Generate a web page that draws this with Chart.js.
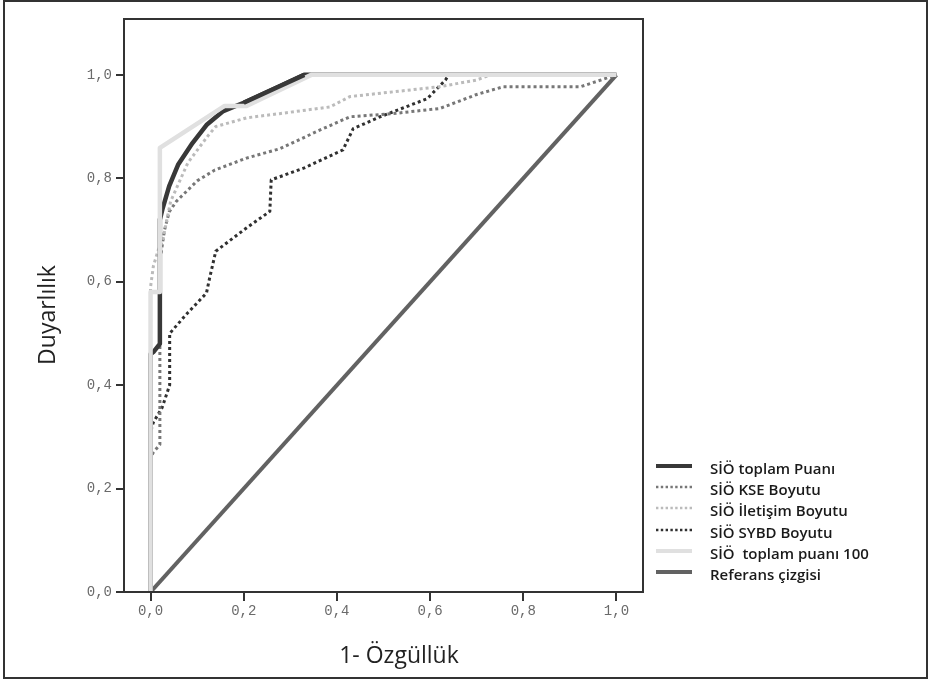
<!DOCTYPE html>
<html>
<head>
<meta charset="utf-8">
<script src="https://cdn.jsdelivr.net/npm/chart.js@4/dist/chart.umd.min.js"></script>
<style>
  html, body { margin: 0; padding: 0; background: #fff; }
  #wrap { position: relative; width: 931px; height: 682px; overflow: hidden; }
  #c { position: absolute; left: 0; top: 0; }
  #frame { position: absolute; left: 3px; top: 0px; width: 925px; height: 679px; box-sizing: border-box; border: 2px solid #333; pointer-events: none; }
  .atitle { position: absolute; font-family: "Open Sans", sans-serif; font-size: 23px; line-height: 23px; color: #222; white-space: nowrap; }
  #xt { left: 399px; top: 643px; transform: translateX(-50%); }
  #yt { left: 46px; top: 315px; transform: translate(-50%, -50%) rotate(-90deg); }
  #legend { position: absolute; left: 656px; top: 455px; font-family: "Open Sans", sans-serif; font-size: 15px; font-weight: 600; color: #1a1a1a; }
  .row { height: 21.3px; display: flex; align-items: center; white-space: nowrap; }
  .row svg { width: 36px; height: 6px; margin-right: 18px; flex: none; }
  .row span { position: relative; top: 2px; }
</style>
</head>
<body>
<div id="wrap">
  <canvas id="c" width="931" height="682"></canvas>
  <div id="frame"></div>
  <div class="atitle" id="xt">1- Özgüllük</div>
  <div class="atitle" id="yt">Duyarlılık</div>
  <div id="legend"></div>
</div>
<script>
// ---- data ----
const xTickValues = [0, 0.2, 0.4, 0.6, 0.8, 1.0];
const xTickLabels = ['0,0', '0,2', '0,4', '0,6', '0,8', '1,0'];
const yTickValues = [0, 0.2, 0.4, 0.6, 0.8, 1.0];
const yTickLabels = ['0,0', '0,2', '0,4', '0,6', '0,8', '1,0'];

const seriesNames = ['SİÖ toplam Puanı', 'SİÖ KSE Boyutu', 'SİÖ İletişim Boyutu', 'SİÖ SYBD Boyutu', 'SİÖ  toplam puanı 100', 'Referans çizgisi'];

const toplamPuani = [[0,0],[0,0.46],[0.006,0.464],[0.02,0.48],[0.02,0.72],[0.026,0.742],[0.04,0.785],[0.059,0.826],[0.09,0.868],[0.12,0.903],[0.156,0.93],[0.2,0.946],[0.27,0.975],[0.33,1.0],[1,1]];
const kse = [[0,0],[0,0.26],[0.006,0.27],[0.02,0.285],[0.02,0.64],[0.03,0.70],[0.04,0.735],[0.055,0.755],[0.1,0.795],[0.138,0.816],[0.206,0.839],[0.277,0.857],[0.363,0.893],[0.428,0.919],[0.52,0.925],[0.621,0.935],[0.7,0.962],[0.757,0.977],[0.923,0.977],[1,1]];
const iletisim = [[0,0],[0,0.59],[0.006,0.63],[0.016,0.66],[0.026,0.68],[0.043,0.755],[0.08,0.83],[0.124,0.883],[0.14,0.9],[0.207,0.917],[0.277,0.925],[0.36,0.935],[0.385,0.938],[0.428,0.958],[0.62,0.977],[0.70,0.99],[0.73,1.0],[1,1]];
const sybd = [[0,0],[0,0.31],[0.006,0.328],[0.025,0.357],[0.041,0.40],[0.041,0.50],[0.08,0.54],[0.12,0.578],[0.127,0.608],[0.14,0.659],[0.2,0.70],[0.256,0.736],[0.259,0.797],[0.33,0.82],[0.413,0.855],[0.435,0.896],[0.493,0.919],[0.594,0.954],[0.633,0.99],[0.64,1.0],[1,1]];
const toplam100 = [[0,0],[0,0.58],[0.02,0.58],[0.02,0.859],[0.159,0.94],[0.206,0.94],[0.345,1.0],[1,1]];
const referans = [[0,0],[1,1]];

// ---- styles ----
const styles = [
  { color: '#383838', width: 4.5, dash: [], order: 1 },
  { color: '#777777', width: 3, dash: [3, 3], order: 3 },
  { color: '#bbbbbb', width: 3, dash: [3, 3], order: 2 },
  { color: '#303030', width: 3, dash: [3, 3], order: 4 },
  { color: '#e0e0e0', width: 4.5, dash: [], order: 0 },
  { color: '#626262', width: 4, dash: [], order: 5 }
];
const allSeries = [toplamPuani, kse, iletisim, sybd, toplam100, referans];

const datasets = allSeries.map((s, i) => ({
  label: seriesNames[i],
  data: s.map(p => ({ x: p[0], y: p[1] })),
  showLine: true,
  borderColor: styles[i].color,
  backgroundColor: styles[i].color,
  borderWidth: styles[i].width,
  borderDash: styles[i].dash,
  borderCapStyle: 'butt',
  borderJoinStyle: 'round',
  pointRadius: 0,
  pointHoverRadius: 0,
  tension: 0,
  fill: false,
  order: styles[i].order
}));

// dark diagonal drawn above the light line where they run side by side
const overlayPlugin = {
  id: 'overlay',
  afterDatasetsDraw(chart) {
    const meta = chart.getDatasetMeta(0);
    const pts = meta.data;
    const ctx = chart.ctx;
    ctx.save();
    ctx.strokeStyle = styles[0].color;
    ctx.lineWidth = styles[0].width;
    ctx.lineJoin = 'round';
    ctx.beginPath();
    for (let k = 11; k <= 13; k++) {
      if (k === 11) ctx.moveTo(pts[k].x, pts[k].y); else ctx.lineTo(pts[k].x, pts[k].y);
    }
    ctx.stroke();
    ctx.restore();
  }
};

const framePlugin = {
  id: 'frame',
  afterDraw(chart) {
    const a = chart.chartArea, ctx = chart.ctx;
    ctx.save();
    ctx.strokeStyle = '#333';
    ctx.lineWidth = 2;
    ctx.strokeRect(a.left, a.top, a.right - a.left, a.bottom - a.top);
    ctx.restore();
  }
};

const tickFont = { family: '"Liberation Mono", monospace', size: 14 };

new Chart(document.getElementById('c'), {
  type: 'scatter',
  data: { datasets },
  plugins: [overlayPlugin, framePlugin],
  options: {
    responsive: false,
    animation: false,
    layout: { padding: { left: 0, top: 19, right: 288, bottom: 0 } },
    plugins: { legend: { display: false }, tooltip: { enabled: false } },
    scales: {
      x: {
        type: 'linear', min: -0.057, max: 1.057,
        afterBuildTicks: s => { s.ticks = xTickValues.map(v => ({ value: v })); },
        afterFit: s => { s.height = 90; },
        ticks: { callback: (v, i) => xTickLabels[i], font: tickFont, color: '#6a6a6a', padding: 2, maxRotation: 0, autoSkip: false },
        grid: { drawOnChartArea: false, drawTicks: true, tickLength: 9, color: '#333', lineWidth: 2 },
        border: { display: true, color: '#333', width: 2 }
      },
      y: {
        type: 'linear', min: 0, max: 1.108,
        afterBuildTicks: s => { s.ticks = yTickValues.map(v => ({ value: v })); },
        afterFit: s => { s.width = 124; },
        ticks: { callback: (v, i) => yTickLabels[i], font: tickFont, color: '#6a6a6a', padding: 4, autoSkip: false },
        grid: { drawOnChartArea: false, drawTicks: true, tickLength: 8, color: '#333', lineWidth: 2 },
        border: { display: true, color: '#333', width: 2 }
      }
    }
  }
});

// ---- legend (HTML) ----
const legend = document.getElementById('legend');
seriesNames.forEach((name, i) => {
  const st = styles[i];
  const row = document.createElement('div');
  row.className = 'row';
  const dash = st.dash.length ? st.dash.map(d => d * 0.8).join(',') : 'none';
  const w = st.dash.length ? 2.5 : 4;
  row.innerHTML = '<svg viewBox="0 0 36 6"><line x1="0" y1="3" x2="36" y2="3" stroke="' + st.color +
    '" stroke-width="' + w + '" stroke-dasharray="' + dash + '"/></svg>';
  const sp = document.createElement('span');
  sp.textContent = name;
  sp.style.whiteSpace = 'pre';
  row.appendChild(sp);
  legend.appendChild(row);
});
</script>
</body>
</html>
